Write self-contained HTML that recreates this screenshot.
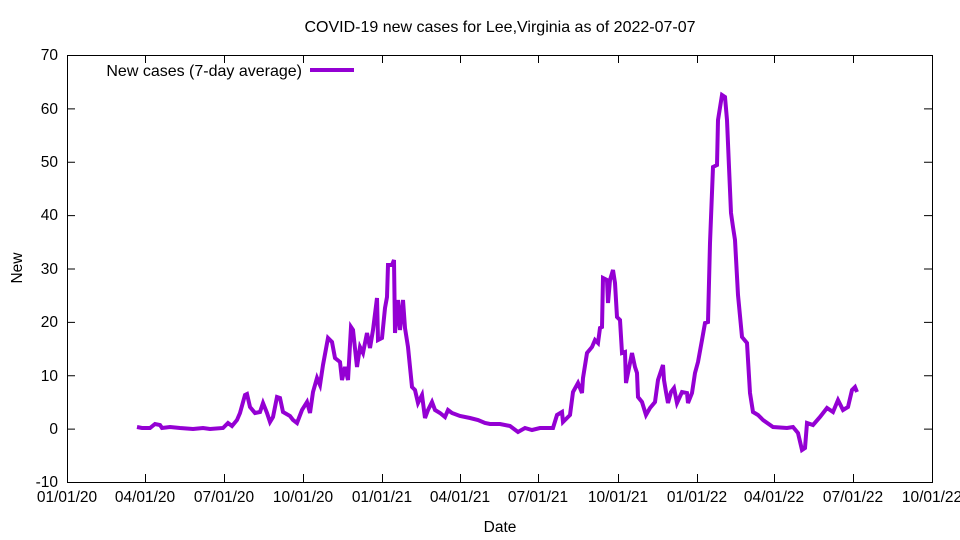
<!DOCTYPE html>
<html><head><meta charset="utf-8"><style>body{margin:0;background:#fff}svg{display:block}text{font-family:"Liberation Sans",Arial,sans-serif;font-size:15.5px;fill:#000}</style></head><body>
<svg width="960" height="540" viewBox="0 0 960 540">
<rect x="0" y="0" width="960" height="540" fill="#fff"/>
<text x="500" y="32" text-anchor="middle" style="font-size:16px">COVID-19 new cases for Lee,Virginia as of 2022-07-07</text>
<g stroke="#000" stroke-width="1" fill="none">
<rect x="67.5" y="55.5" width="865" height="427"/>
<path d="M67 55.5h8M932 55.5h-8M67 108.9h8M932 108.9h-8M67 162.3h8M932 162.3h-8M67 215.6h8M932 215.6h-8M67 269h8M932 269h-8M67 322.4h8M932 322.4h-8M67 375.8h8M932 375.8h-8M67 429.1h8M932 429.1h-8"/>
<path d="M145.5 482v-8M145.5 55v8M224.5 482v-8M224.5 55v8M303.5 482v-8M303.5 55v8M382.5 482v-8M382.5 55v8M460.5 482v-8M460.5 55v8M538.5 482v-8M538.5 55v8M618.5 482v-8M618.5 55v8M697.5 482v-8M697.5 55v8M774.5 482v-8M774.5 55v8M853.5 482v-8M853.5 55v8"/>
</g>
<g text-anchor="end">
<text x="58" y="60">70</text><text x="58" y="114">60</text><text x="58" y="167">50</text><text x="58" y="220">40</text><text x="58" y="274">30</text><text x="58" y="327">20</text><text x="58" y="381">10</text><text x="58" y="434">0</text><text x="58" y="487">-10</text>
</g>
<g text-anchor="middle">
<text x="67" y="502">01/01/20</text><text x="145" y="502">04/01/20</text><text x="224" y="502">07/01/20</text><text x="303" y="502">10/01/20</text><text x="382" y="502">01/01/21</text><text x="460" y="502">04/01/21</text><text x="538" y="502">07/01/21</text><text x="618" y="502">10/01/21</text><text x="697" y="502">01/01/22</text><text x="774" y="502">04/01/22</text><text x="853" y="502">07/01/22</text><text x="932" y="502">10/01/22</text>
<text x="500" y="532">Date</text>
</g>
<text x="22" y="268" text-anchor="middle" transform="rotate(-90 22 268)">New</text>
<text x="302" y="76" text-anchor="end" style="font-size:16px">New cases (7-day average)</text>
<line x1="310" y1="70" x2="354" y2="70" stroke="#9400d3" stroke-width="4"/>
<polyline fill="none" stroke="#9400d3" stroke-width="4" stroke-linejoin="miter" points="137,427 142,428 150,428 155,424 160,425 162,428 170,427 180,428 193,429 203,428 210,429 223,428 228,423 232,426 237,420 240,413 245,395 247,394 250,407 255,413 260,412 263,403 267,413 270,422 273,417 277,397 280,398 283,412 290,416 293,420 297,423 302,410 307,402 310,413 313,392 317,378 320,385 323,365 328,338 332,342 335,358 340,362 342,380 345,367 348,380 351,327 353,330 357,367 360,347 363,353 367,333 370,348 373,330 377,298 378,340 382,338 385,308 387,297 388,265 392,265 394,260 395,333 398,300 400,330 403,300 405,328 408,347 412,387 415,390 418,403 422,395 425,418 428,410 432,402 435,410 440,413 445,417 448,410 452,413 460,416 470,418 478,420 485,423 490,424 500,424 510,426 518,432 525,428 532,430 540,428 553,428 557,415 562,412 563,422 570,415 573,392 578,383 582,393 583,378 587,353 592,347 595,340 598,343 600,328 602,327 603,278 607,280 608,303 610,280 613,270 615,283 617,317 620,320 622,353 625,352 626,383 628,373 632,353 635,367 637,373 638,397 642,402 646,415 650,408 655,402 658,380 663,365 664,380 666,392 668,403 671,392 674,388 677,403 682,392 687,393 688,403 692,393 695,373 698,362 702,340 705,323 708,322 710,243 713,167 717,165 718,120 722,95 725,97 727,120 729,167 731,213 733,227 735,240 738,295 742,337 747,343 750,393 753,412 758,415 763,420 773,427 787,428 793,427 798,433 802,450 805,448 807,423 813,425 820,417 827,408 833,412 838,400 843,410 848,407 852,390 855,387 857,392"/>
</svg>
</body></html>
